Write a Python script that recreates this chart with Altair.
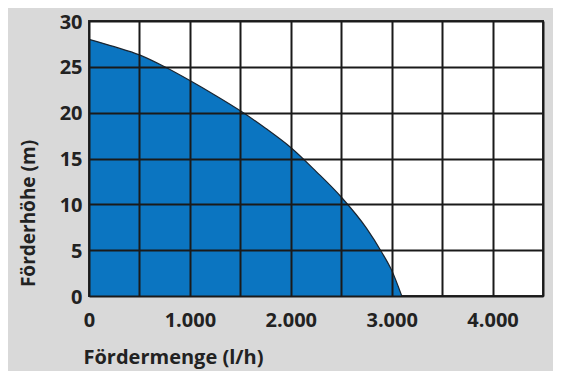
import altair as alt
import pandas as pd

flow = [0, 250, 500, 750, 1000, 1250, 1500, 1750, 2000, 2250, 2500, 2750, 2900, 3000, 3100]
head = [28, 27.2, 26.3, 25.0, 23.5, 21.9, 20.2, 18.3, 16.2, 13.6, 10.8, 7.4, 4.8, 2.8, 0]

x_grid = [0, 500, 1000, 1500, 2000, 2500, 3000, 3500, 4000, 4500]
y_grid = [0, 5, 10, 15, 20, 25, 30]

df = pd.DataFrame({"flow": flow, "head": head})

font = "Open Sans"

xenc = alt.X(
    "flow:Q",
    scale=alt.Scale(domain=[0, 4500], nice=False, zero=True),
    axis=alt.Axis(
        values=x_grid,
        title="Fördermenge (l/h)",
        labelExpr="datum.value % 1000 == 0 && datum.value < 4500 ? replace(format(datum.value, ','), ',', '.') : ''",
        grid=True, gridColor="#1a1a1a", gridWidth=2, gridOpacity=1,
        domain=False, ticks=False,
        labelPadding=14, labelFontSize=20, labelFont=font, labelFontWeight="bold", labelColor="#222222",
        titleFont=font, titleFontSize=20, titleFontWeight="bold", titleColor="#222222",
        titleAlign="left", titleBaseline="middle", titleX=-6, titleY=61,
        labelFlush=False, labelOverlap=False,
        zindex=1,
    ),
)
yenc = alt.Y(
    "head:Q",
    scale=alt.Scale(domain=[0, 30], nice=False),
    axis=alt.Axis(
        values=y_grid,
        title="Förderhöhe (m)",
        grid=True, gridColor="#1a1a1a", gridWidth=2, gridOpacity=1,
        domain=False, ticks=False,
        labelPadding=7, labelFontSize=20, labelFont=font, labelFontWeight="bold", labelColor="#222222",
        labelOffset=1,
        titleFont=font, titleFontSize=19, titleFontWeight="bold", titleColor="#222222",
        titleAngle=-90, titleAlign="center", titleBaseline="middle", titleX=-61, titleY=192,
        labelFlush=False, labelOverlap=False,
        zindex=1,
    ),
)

area = alt.Chart(df).mark_area(color="#0b75c1", interpolate="monotone", opacity=1).encode(x=xenc, y=yenc)
line = alt.Chart(df).mark_line(color="#1b2530", strokeWidth=1.2, interpolate="monotone").encode(x="flow:Q", y="head:Q")

chart = (area + line).properties(
    width=454, height=275,
    padding={"left": 81, "top": 13, "right": 10, "bottom": 75},
    autosize=alt.AutoSizeParams(type="none"),
    background="#d9d9d9",
).configure_view(
    stroke="#2a2a2a", strokeWidth=2, fill="white"
)

chart.save("out.html", embed_options={"renderer": "svg", "actions": False})
